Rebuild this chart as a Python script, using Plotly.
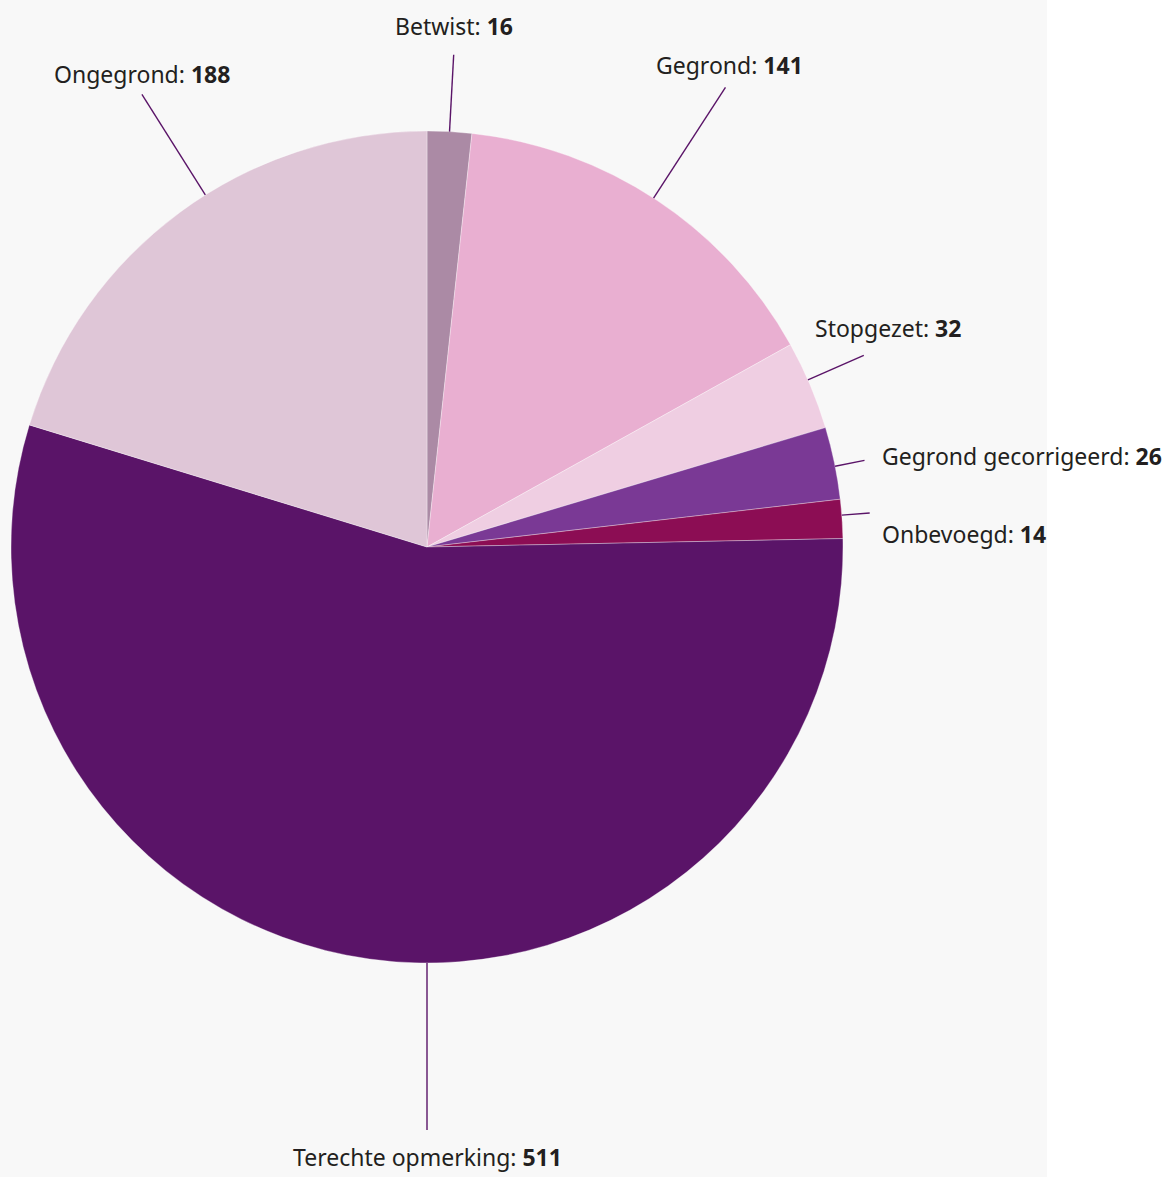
import math
import plotly.graph_objects as go

# Outcome categories and counts, clockwise from 12 o'clock
categories = ["Betwist", "Gegrond", "Stopgezet", "Gegrond gecorrigeerd",
              "Onbevoegd", "Terechte opmerking", "Ongegrond"]
counts = [16, 141, 32, 26, 14, 511, 188]
colors = ["#ab8aa5", "#e9afd1", "#efcee2", "#7a3995",
          "#8c0d54", "#5a1468", "#dfc6d7"]

W, H = 1165, 1177
CX, CY, R = 427, 547, 416          # pie centre and radius in pixels
BG_RIGHT = 1047                     # right edge of the grey panel
LINE_COLOR = "#5a1468"
TEXT_COLOR = "#231f20"
FONT = "Noto Sans"
FS = 23

# Leader-line / label placement per slice:
# angle override (deg clockwise from top, None = slice middle), outer radius of the line,
# anchors and pixel offset of the label from the line end.
label_style = {
    "Betwist":              dict(angle=None,  r_end=493, xa="center", ya="bottom", dx=0,   dy=-11),
    "Gegrond":              dict(angle=33.0,  r_end=548, xa="center", ya="bottom", dx=4,   dy=-4),
    "Stopgezet":            dict(angle=66.3,  r_end=477, xa="left",   ya="bottom", dx=-51, dy=-9),
    "Gegrond gecorrigeerd": dict(angle=78.8,  r_end=446, xa="left",   ya="middle", dx=15,  dy=-4),
    "Onbevoegd":            dict(angle=85.6,  r_end=444, xa="left",   ya="middle", dx=10,  dy=21),
    "Terechte opmerking":   dict(angle=180.0, r_end=583, xa="center", ya="top",    dx=0,   dy=9),
    "Ongegrond":            dict(angle=327.8, r_end=535, xa="center", ya="bottom", dx=0,   dy=-2),
}


def px(x):
    return x / W


def py(y):
    return 1 - y / H


fig = go.Figure(go.Pie(
    labels=categories,
    values=counts,
    sort=False,
    direction="clockwise",
    rotation=0,
    marker=dict(colors=colors, line=dict(color="rgba(255,255,255,0.55)", width=0.6)),
    textinfo="none",
    hoverinfo="label+value",
    showlegend=False,
    domain=dict(x=[px(CX - R), px(CX + R)], y=[py(CY + R), py(CY - R)]),
))

shapes = [dict(type="rect", xref="paper", yref="paper", x0=0, x1=px(BG_RIGHT),
               y0=0, y1=1, fillcolor="#f8f8f8", line=dict(width=0), layer="below")]
annotations = []

total = sum(counts)
cum = 0
for name, val in zip(categories, counts):
    mid = (cum + val / 2) / total * 360
    cum += val
    st = label_style[name]
    ang = math.radians(st["angle"] if st["angle"] is not None else mid)
    sx, sy = CX + R * math.sin(ang), CY - R * math.cos(ang)
    ex, ey = CX + st["r_end"] * math.sin(ang), CY - st["r_end"] * math.cos(ang)
    shapes.append(dict(type="line", xref="paper", yref="paper",
                       x0=px(sx), y0=py(sy), x1=px(ex), y1=py(ey),
                       line=dict(color=LINE_COLOR, width=1.4)))
    annotations.append(dict(
        xref="paper", yref="paper",
        x=px(ex + st["dx"]), y=py(ey + st["dy"]),
        xanchor=st["xa"], yanchor=st["ya"],
        text=f"{name}: <b>{val}</b>",
        showarrow=False,
        font=dict(family=FONT, size=FS, color=TEXT_COLOR),
    ))

fig.update_layout(
    width=W, height=H,
    margin=dict(l=0, r=0, t=0, b=0),
    paper_bgcolor="#ffffff",
    plot_bgcolor="#ffffff",
    shapes=shapes,
    annotations=annotations,
)

fig.write_html("out.html")
